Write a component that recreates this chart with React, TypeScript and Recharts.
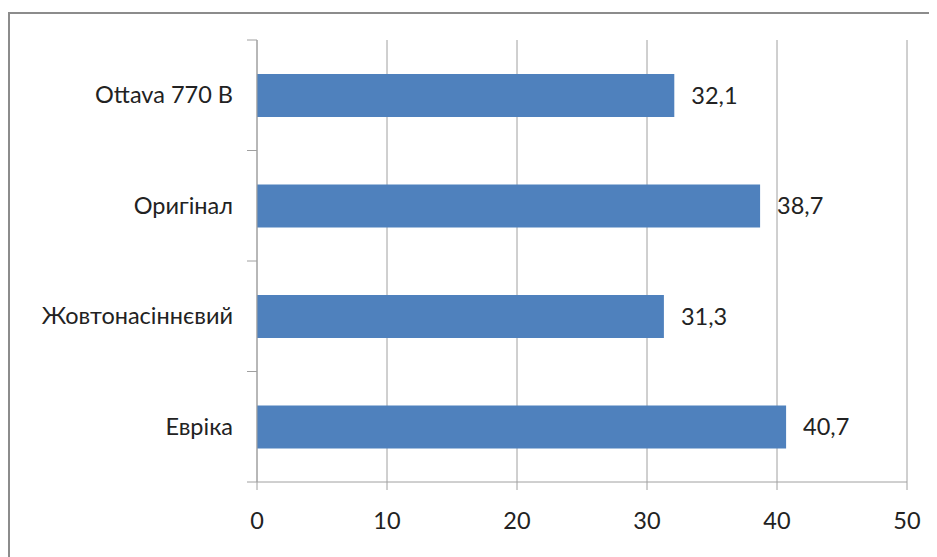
import { BarChart, Bar, XAxis, YAxis, CartesianGrid, LabelList } from 'recharts'

const varieties = ['Ottava 770 B', 'Оригінал', 'Жовтонасіннєвий', 'Евріка']
const values = [32.1, 38.7, 31.3, 40.7]
const xTicks = [0, 10, 20, 30, 40, 50]

const W = 929
const H = 549
const MARGIN = { top: 32, right: 30, bottom: 35, left: 0 }
const Y_WIDTH = 249
const X_HEIGHT = 40
const PLOT_H = H - MARGIN.top - MARGIN.bottom - X_HEIGHT
const BAND = PLOT_H / varieties.length
const AXIS = '#a0a0a0'
const FONT = 'Lato, "Open Sans", sans-serif'
const FS = 23.5

const data = varieties.map((name, i) => ({ name, value: values[i] }))

function CategoryTick(props: any) {
  const { x, y, payload, index } = props
  const last = index === varieties.length - 1
  return (
    <g>
      <line x1={x - 10} x2={x} y1={y - BAND / 2} y2={y - BAND / 2} stroke={AXIS} />
      {last && <line x1={x - 10} x2={x} y1={y + BAND / 2} y2={y + BAND / 2} stroke={AXIS} />}
      <text x={x - 24} y={y} dy={8} textAnchor="end" fill="#222" fontSize={FS} fontFamily={FONT}>
        {payload.value}
      </text>
    </g>
  )
}

export default function App() {
  return (
    <div style={{ position: 'relative', width: W, height: H }}>
      <div
        style={{
          position: 'absolute',
          left: 0,
          top: 4,
          right: -20,
          bottom: -20,
          borderLeft: '2px solid #8c8c8c',
          borderTop: '2px solid #8c8c8c',
        }}
      />
      <BarChart
        width={W}
        height={H}
        data={data}
        layout="vertical"
        margin={MARGIN}
        style={{ position: 'absolute', left: 0, top: 0 }}
      >
        <CartesianGrid horizontal={false} stroke={AXIS} />
        <XAxis
          type="number"
          domain={[0, 50]}
          ticks={xTicks}
          height={X_HEIGHT}
          stroke={AXIS}
          tickSize={8}
          tickMargin={22}
          tick={{ fill: '#222', fontSize: FS, fontFamily: FONT }}
        />
        <YAxis
          type="category"
          dataKey="name"
          width={Y_WIDTH}
          stroke={AXIS}
          tickLine={false}
          tickSize={0}
          tickMargin={0}
          tick={<CategoryTick />}
        />
        <Bar dataKey="value" fill="#4f81bd" barSize={43} isAnimationActive={false}>
          <LabelList
            dataKey="value"
            position="right"
            offset={17}
            fill="#222"
            fontSize={FS}
            fontFamily={FONT}
            formatter={(v: any) => String(v).replace('.', ',')}
          />
        </Bar>
      </BarChart>
    </div>
  )
}
